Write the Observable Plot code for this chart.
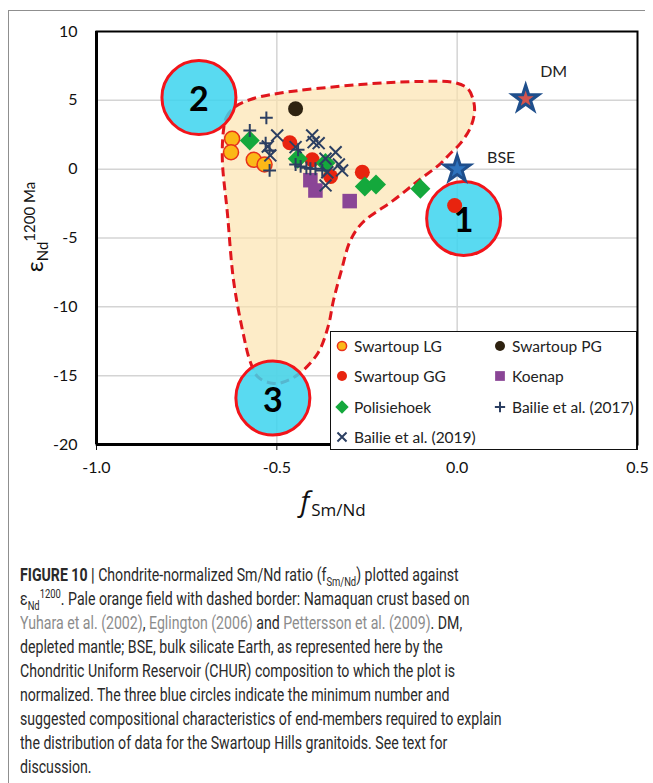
<!DOCTYPE html>
<html>
<head>
<meta charset="utf-8">
<script src="https://cdn.jsdelivr.net/npm/d3@7"></script>
<script src="https://cdn.jsdelivr.net/npm/@observablehq/plot@0.6"></script>
<style>
  body { margin: 0; background: #fff; }
  #fig { position: relative; width: 653px; height: 783px; overflow: hidden; font-family: Lato, "Open Sans", sans-serif; color: #222; }
  #border { position: absolute; left: 8px; top: 10px; width: 636px; height: 800px; border-left: 1px solid #8f8f8f; border-top: 1px solid #8f8f8f; }
  #chart { position: absolute; left: 0; top: 0; }
  #legend { position: absolute; left: 330px; top: 331px; width: 305px; height: 117px; border: 1.5px solid #111; background: #fff; font-size: 15.5px; }
  #legend .item { position: absolute; display: flex; align-items: center; white-space: nowrap; height: 20px; }
  #legend svg { margin-right: 4px; }
  #caption { position: absolute; left: 20px; top: 563px; font-family: "Liberation Sans Narrow", Roboto, "Liberation Sans", sans-serif; font-size: 18px; color: #2a2a2a; transform-origin: 0 0; }
  #caption .line { height: 24px; line-height: 24px; white-space: nowrap; }
  #caption .ref { color: #8c8c8c; }
  #caption sub, #caption sup { font-size: 12px; line-height: 0; }
</style>
</head>
<body>
<div id="fig">
  <div id="border"></div>
  <div id="chart"></div>
  <div id="legend"></div>
  <div id="caption">
    <div class="line"><b>FIGURE 10 |</b> Chondrite-normalized Sm/Nd ratio (f<sub>Sm/Nd</sub>) plotted against</div>
    <div class="line">ε<sub>Nd</sub><sup>1200</sup>. Pale orange field with dashed border: Namaquan crust based on</div>
    <div class="line"><span class="ref">Yuhara et al. (2002)</span>, <span class="ref">Eglington (2006)</span> and <span class="ref">Pettersson et al. (2009)</span>. DM,</div>
    <div class="line">depleted mantle; BSE, bulk silicate Earth, as represented here by the</div>
    <div class="line">Chondritic Uniform Reservoir (CHUR) composition to which the plot is</div>
    <div class="line">normalized. The three blue circles indicate the minimum number and</div>
    <div class="line">suggested compositional characteristics of end-members required to explain</div>
    <div class="line">the distribution of data for the Swartoup Hills granitoids. See text for</div>
    <div class="line">discussion.</div>
  </div>
</div>
<script>
// [f Sm/Nd, εNd(1200 Ma)] pairs for each sample group
const swartoupLG = [[-0.624, 2.21], [-0.627, 1.23], [-0.564, 0.68], [-0.534, 0.34]];
const swartoupPG = [[-0.448, 4.39]];
const swartoupGG = [[-0.464, 1.92], [-0.402, 0.68], [-0.351, -0.53], [-0.263, -0.22], [-0.007, -2.64]];
const koenap = [[-0.407, -0.80], [-0.393, -1.55], [-0.298, -2.32]];
const polisiehoek = [[-0.575, 2.08], [-0.442, 0.76], [-0.365, 0.44], [-0.256, -1.26], [-0.225, -1.11], [-0.102, -1.42]];
const bailie2017 = [[-0.529, 3.73], [-0.575, 2.81], [-0.531, 1.89], [-0.520, 1.36], [-0.520, -0.09], [-0.441, 1.41],
  [-0.448, 0.34], [-0.434, 0.20], [-0.418, 0.10], [-0.407, 0.03], [-0.393, 0.03], [-0.374, -0.09]];
const bailie2019 = [[-0.499, 2.45], [-0.518, 1.00], [-0.525, 1.65], [-0.402, 2.45], [-0.398, 1.96], [-0.384, 1.89],
  [-0.448, 1.60], [-0.337, 1.23], [-0.365, 0.76], [-0.328, 0.34], [-0.319, -0.09], [-0.360, -0.22], [-0.365, -1.18]];

// Mantle reservoirs
const reservoirs = [{name: "DM", f: 0.19, e: 5.1}, {name: "BSE", f: 0.0, e: 0.0}];

// Proposed end-members
const endMembers = [{id: "1", f: 0.018, e: -3.58}, {id: "2", f: -0.716, e: 5.2}, {id: "3", f: -0.511, e: -16.62}];

// Outline of the Namaquan crust field
const namaquanField = [
  [-0.648, 2.81], [-0.640, 3.76], [-0.615, 4.55], [-0.573, 5.06], [-0.498, 5.50], [-0.268, 6.15],
  [-0.102, 6.37], [-0.010, 6.30], [0.029, 5.86], [0.045, 4.99], [0.048, 4.12], [0.037, 3.03],
  [0.009, 1.87], [-0.019, 1.14], [-0.046, 0.41], [-0.107, -0.82], [-0.177, -2.27], [-0.262, -3.87],
  [-0.296, -5.18], [-0.321, -7.36], [-0.343, -9.54], [-0.357, -11.35], [-0.385, -13.31], [-0.434, -14.77],
  [-0.476, -15.42], [-0.509, -15.57], [-0.551, -15.13], [-0.573, -14.04], [-0.595, -11.72], [-0.620, -8.09],
  [-0.637, -3.22], [-0.651, 0.63]
];

const xTicks = [-1.0, -0.5, 0.0, 0.5];
const yTicks = [-20, -15, -10, -5, 0, 5, 10];

// Marker style for each group (r in the plot, lr in the legend)
const series = [
  {name: "Swartoup LG", data: swartoupLG, symbol: "circle", r: 7.5, fill: "#fbb817", stroke: "#e8321a", sw: 1.5, lr: 4.6},
  {name: "Swartoup PG", data: swartoupPG, symbol: "circle", r: 7.5, fill: "#2e2210", stroke: "none", sw: 0, lr: 5},
  {name: "Swartoup GG", data: swartoupGG, symbol: "circle", r: 7.5, fill: "#e8240f", stroke: "none", sw: 0, lr: 5},
  {name: "Koenap", data: koenap, symbol: "square", r: 8.2, fill: "#8a4596", stroke: "none", sw: 0, lr: 5.5},
  {name: "Polisiehoek", data: polisiehoek, symbol: "diamond2", r: 9, fill: "#14a83c", stroke: "none", sw: 0, lr: 6},
  {name: "Bailie et al. (2017)", data: bailie2017, symbol: "plus", r: 4.2, fill: "none", stroke: "#2c3f62", sw: 2, lr: 3.4},
  {name: "Bailie et al. (2019)", data: bailie2019, symbol: "times", r: 5.5, fill: "none", stroke: "#2c3f62", sw: 2, lr: 4.2}
];

const X = d => d[0], Y = d => d[1];

const plot = Plot.plot({
  width: 653,
  height: 525,
  marginLeft: 96,
  marginRight: 16,
  marginTop: 31,
  marginBottom: 81,
  style: {fontFamily: "Lato, 'Open Sans', sans-serif", fontSize: "16px", color: "#111", background: "transparent"},
  x: {domain: [-1, 0.5], ticks: xTicks, tickFormat: d => d.toFixed(1), tickSize: 6, tickPadding: 11, label: null},
  y: {domain: [-20, 10], ticks: yTicks, tickFormat: d => String(d), tickSize: 0, tickPadding: 19, label: null},
  marks: [
    Plot.ruleY(yTicks.filter(v => v > -20 && v < 10), {stroke: "#d4d4d4", strokeWidth: 1.5}),
    Plot.ruleX(xTicks.filter(v => v > -1 && v < 0.5), {stroke: "#d4d4d4", strokeWidth: 1.5}),
    Plot.line(namaquanField, {x: X, y: Y, curve: "catmull-rom-closed", fill: "#fce2ab", fillOpacity: 0.65,
      stroke: "#e0161d", strokeWidth: 3, strokeDasharray: "9,5", strokeLinecap: "butt"}),
    Plot.dot(endMembers, {x: "f", y: "e", r: 37, fill: "#3cd3ef", fillOpacity: 0.85, stroke: "#f2141a", strokeWidth: 3}),
    Plot.text(endMembers, {x: "f", y: "e", text: "id", fontSize: 34, fontWeight: "bold", fill: "#000", dy: 3}),
    ...series.map(s => Plot.dot(s.data, {x: X, y: Y, symbol: s.symbol, r: s.r, fill: s.fill, stroke: s.stroke, strokeWidth: s.sw})),
    Plot.dot(reservoirs, {x: "f", y: "e", symbol: "star", r: 11, fill: "#1f4f8c"}),
    Plot.dot(reservoirs.filter(d => d.name === "DM"), {x: "f", y: "e", symbol: "star", r: 5, fill: "#d3544e"}),
    Plot.dot(reservoirs.filter(d => d.name === "BSE"), {x: "f", y: "e", symbol: "star", r: 5.5, fill: "#2e73bd"}),
    Plot.text(reservoirs.filter(d => d.name === "DM"), {x: "f", y: "e", text: "name", fontSize: 16, fill: "#222", dx: 28, dy: -27}),
    Plot.text(reservoirs.filter(d => d.name === "BSE"), {x: "f", y: "e", text: "name", fontSize: 16, fill: "#222", dx: 44, dy: -11}),
    Plot.frame({stroke: "#000", strokeWidth: 2}),
    Plot.ruleY([-20], {stroke: "#000", strokeWidth: 3}),
    Plot.ruleX([-1], {stroke: "#000", strokeWidth: 3})
  ]
});
document.getElementById("chart").appendChild(plot);

// Axis titles with sub- and superscripts
const svg = d3.select(plot);
const yl = svg.append("text")
  .attr("transform", "translate(43,227) rotate(-90)")
  .attr("text-anchor", "middle")
  .attr("fill", "#111")
  .style("font-family", "Lato, 'Open Sans', sans-serif");
yl.append("tspan").attr("font-size", 24).text("ε");
yl.append("tspan").attr("font-size", 15).attr("dy", 5).text("Nd");
yl.append("tspan").attr("font-size", 15).attr("dy", -13).text("1200 Ma");

const xl = svg.append("text")
  .attr("x", 333).attr("y", 511)
  .attr("fill", "#111")
  .style("font-family", "'Open Sans', Lato, sans-serif");
xl.append("tspan").attr("font-size", 28).attr("font-style", "italic").text("f");
xl.append("tspan").attr("font-size", 17).attr("dy", 5).attr("dx", 2).text("Sm/Nd");

// Legend
const symbolTypes = {circle: d3.symbolCircle, square: d3.symbolSquare, diamond2: d3.symbolDiamond2, plus: d3.symbolPlus, times: d3.symbolTimes};
const legendPos = [[3, 4], [161, 4], [3, 34], [161, 34], [3, 65], [161, 65], [3, 95]];
const legend = d3.select("#legend");
series.forEach((s, i) => {
  const item = legend.append("div").attr("class", "item")
    .style("left", legendPos[i][0] + "px").style("top", legendPos[i][1] + "px");
  const m = item.append("svg").attr("width", 16).attr("height", 16);
  m.append("path")
    .attr("transform", "translate(8,8)")
    .attr("d", d3.symbol(symbolTypes[s.symbol], Math.PI * s.lr * s.lr)())
    .attr("fill", s.fill)
    .attr("stroke", s.stroke === "none" ? null : s.stroke)
    .attr("stroke-width", s.sw);
  item.append("span").text(s.name);
});

// Fit the caption to its column width
const cap = document.getElementById("caption");
const widest = d3.max(Array.from(cap.querySelectorAll(".line")), el => el.scrollWidth);
cap.style.transform = `scaleX(${482 / widest})`;
</script>
</body>
</html>
